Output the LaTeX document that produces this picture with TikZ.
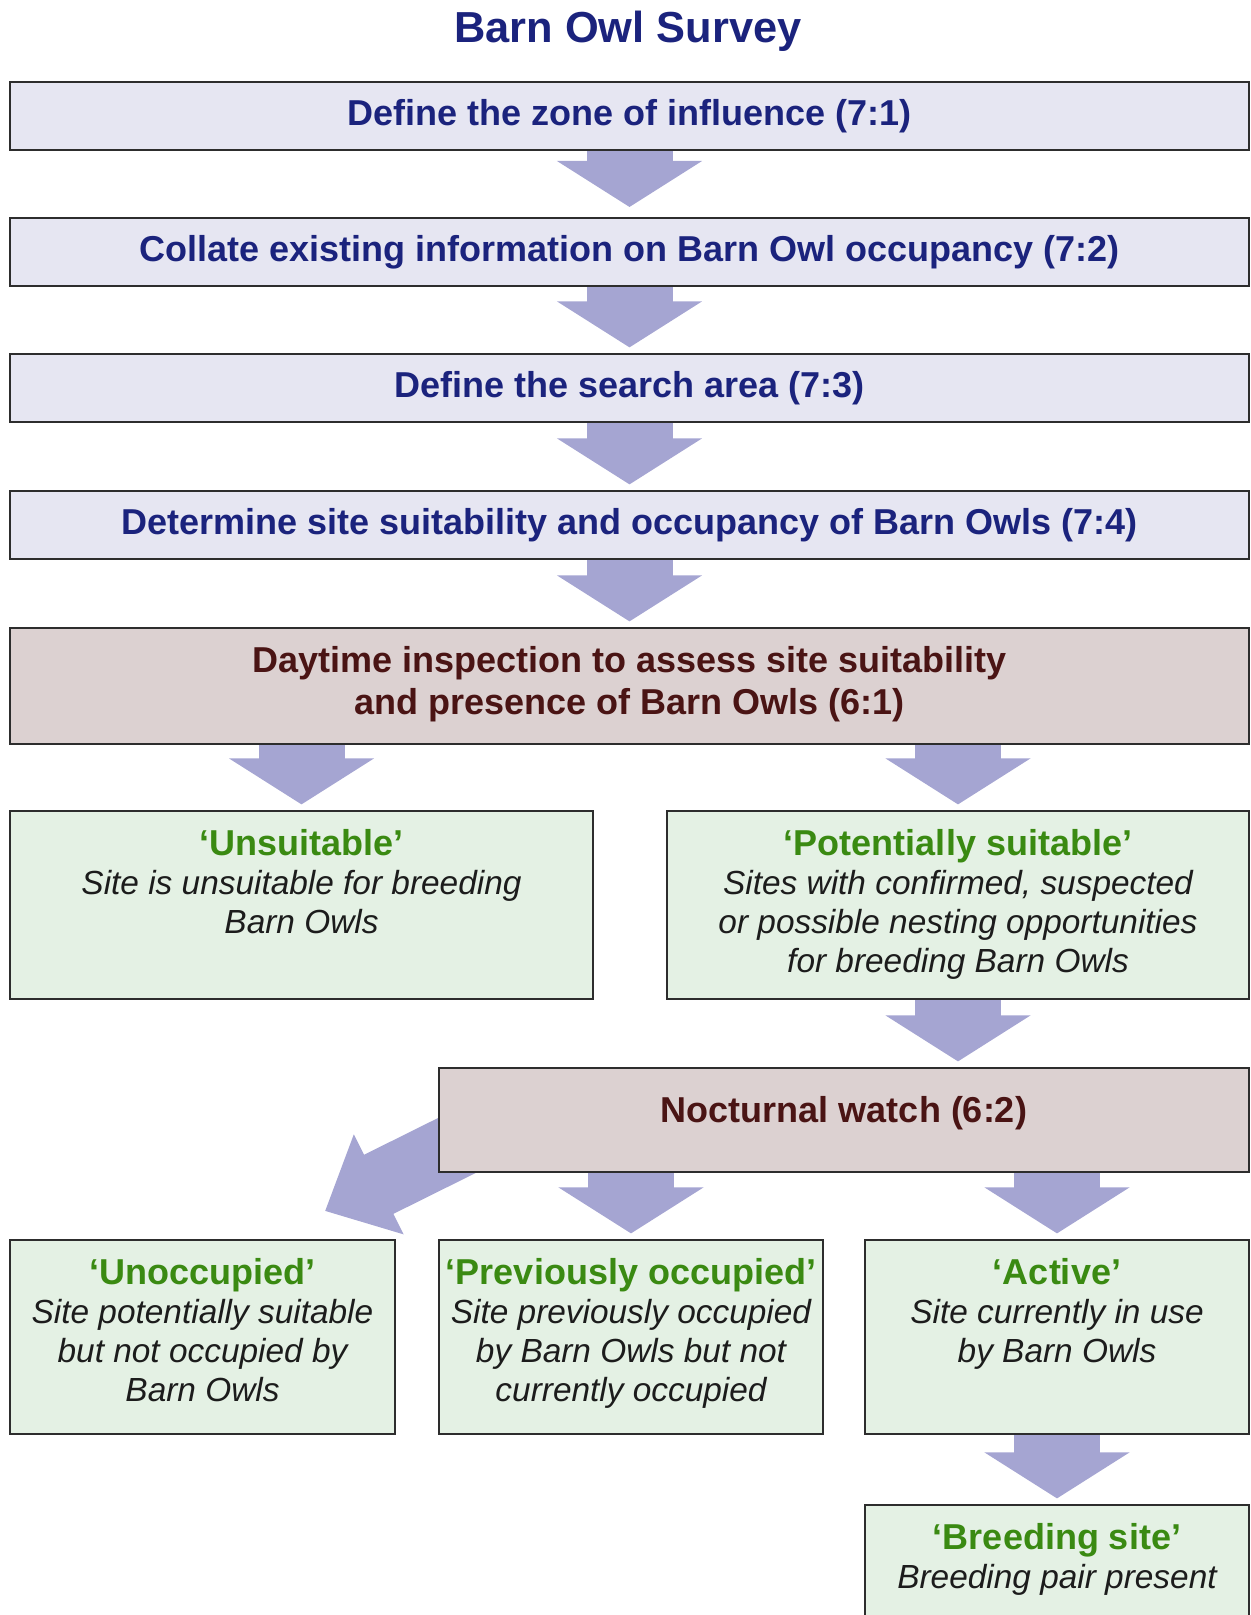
\documentclass[tikz,border=0pt]{standalone}
\usepackage{fontspec}
\setmainfont{Liberation Sans}
\usetikzlibrary{arrows.meta,calc,backgrounds}

\definecolor{boxline}{RGB}{45,45,45}
\definecolor{navy}{RGB}{27,35,125}
\definecolor{stagefill}{RGB}{230,230,242}
\definecolor{checkfill}{RGB}{220,209,209}
\definecolor{checktext}{RGB}{74,20,20}
\definecolor{outfill}{RGB}{228,241,228}
\definecolor{headgreen}{RGB}{58,138,18}
\definecolor{bodytext}{RGB}{28,28,28}
\definecolor{arrowfill}{RGB}{165,165,210}

\newcommand{\outhead}[1]{{\fontsize{18pt}{19.5pt}\selectfont\bfseries\upshape\color{headgreen}#1}}

\begin{document}
\begin{tikzpicture}[
		x=0.5pt, y=-0.5pt,
		box/.style={rectangle, draw=boxline, line width=1pt, inner sep=0pt},
		stage/.style={box, fill=stagefill, text=navy, font=\fontsize{18pt}{21pt}\selectfont\bfseries,
			minimum width=619.5pt, minimum height=34pt},
		check/.style={box, fill=checkfill, text=checktext, align=center,
			font=\fontsize{18pt}{21pt}\selectfont\bfseries},
		outcome/.style={box, fill=outfill},
		outtext/.style={anchor=north, inner sep=0pt, align=center, text=bodytext,
			font=\fontsize{16.7pt}{19.5pt}\selectfont\itshape},
		fat/.style={draw=arrowfill, line width=43pt, -{Triangle[width=71.5pt, length=23pt]}, shorten >=2.8pt},
		fatslant/.style={draw=arrowfill, line width=33pt, -{Triangle[width=54pt, length=30pt]}}
	]
  \useasboundingbox (0,0) rectangle (1251,1615);

  \node (title) [text=navy, font=\fontsize{21.7pt}{26pt}\selectfont\bfseries] at (628,31) {Barn Owl Survey};

  % desk stages
  \node (zone) [stage] at (629.5,116) {Define the zone of influence (7:1)};
  \node (collate) [stage] at (629.5,252) {Collate existing information on Barn Owl occupancy (7:2)};
  \node (search) [stage] at (629.5,388) {Define the search area (7:3)};
  \node (suit) [stage] at (629.5,525) {Determine site suitability and occupancy of Barn Owls (7:4)};

  % field checks
  \node (day) [check, minimum width=619.5pt, minimum height=58pt] at (629.5,686)
    {Daytime inspection to assess site suitability\\and presence of Barn Owls (6:1)\rule[-6pt]{0pt}{0pt}};
  \node (noct) [check, minimum width=405pt, minimum height=52pt, text height=12.6pt, text depth=10pt] at (844,1120)
    {Nocturnal watch (6:2)};

  % outcomes
  \node (unsuit) [outcome, minimum width=291.5pt, minimum height=94pt] at (301.5,905) {};
  \node (pot) [outcome, minimum width=291pt, minimum height=94pt] at (958,905) {};
  \node (unocc) [outcome, minimum width=192.5pt, minimum height=97pt] at (202.5,1337) {};
  \node (prev) [outcome, minimum width=192pt, minimum height=97pt] at (631,1337) {};
  \node (active) [outcome, minimum width=192pt, minimum height=97pt] at (1057,1337) {};
  \begin{scope}
    \clip (0,0) rectangle (1251,1615);
    \node (breed) [outcome, minimum width=192pt, minimum height=75pt] at (1057,1580) {};
  \end{scope}

  \node (unsuit-txt) [outtext] at ($(unsuit.north)+(0,19)$)
    {\outhead{‘Unsuitable’}\\Site is unsuitable for breeding\\Barn Owls};
  \node (pot-txt) [outtext] at ($(pot.north)+(0,19)$)
    {\outhead{‘Potentially suitable’}\\Sites with confirmed, suspected\\or possible nesting opportunities\\for breeding Barn Owls};
  \node (unocc-txt) [outtext] at ($(unocc.north)+(0,19)$)
    {\outhead{‘Unoccupied’}\\Site potentially suitable\\but not occupied by\\Barn Owls};
  \node (prev-txt) [outtext] at ($(prev.north)+(0,19)$)
    {\outhead{‘Previously occupied’}\\Site previously occupied\\by Barn Owls but not\\currently occupied};
  \node (active-txt) [outtext] at ($(active.north)+(0,19)$)
    {\outhead{‘Active’}\\Site currently in use\\by Barn Owls};
  \node (breed-txt) [outtext] at ($(breed.north)+(0,19)$)
    {\outhead{‘Breeding site’}\\Breeding pair present};

  \begin{pgfonlayer}{background}
    \draw[fat, shorten >=5pt] (zone) -- (collate);
    \draw[fat] (collate) -- (search);
    \draw[fat] (search) -- (suit);
    \draw[fat] (suit) -- (day);
    \draw[fat] (day.south -| unsuit.north) -- (unsuit.north);
    \draw[fat] (day.south -| pot.north) -- (pot.north);
    \draw[fat] (pot.south) -- (pot.south |- noct.north);
    \draw[fatslant] ($(noct.south west)+(46,-41)$) -- ($(unocc.north east)+(-71,-28)$);
    \draw[fat] (noct.south -| prev.north) -- (prev.north);
    \draw[fat] (noct.south -| active.north) -- (active.north);
    \draw[fat] (active) -- (breed);
  \end{pgfonlayer}
\end{tikzpicture}
\end{document}
